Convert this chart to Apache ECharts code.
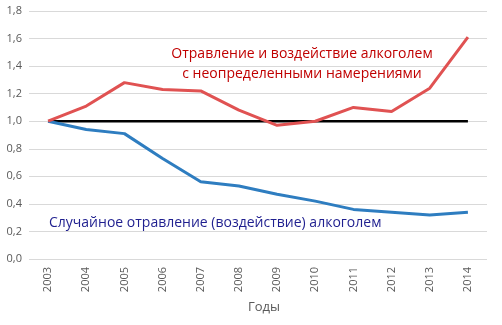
<!DOCTYPE html>
<html><head><meta charset="utf-8">
<script src="https://cdn.jsdelivr.net/npm/echarts@6/dist/echarts.min.js"></script>
<style>html,body{margin:0;padding:0;background:#fff}#c{width:502px;height:325px}</style>
</head><body><div id="c"></div>
<script>
const years = ['2003','2004','2005','2006','2007','2008','2009','2010','2011','2012','2013','2014'];
const undetermined = [1.0,1.11,1.28,1.23,1.22,1.08,0.97,1.00,1.10,1.07,1.24,1.61];
const accidental = [1.0,0.94,0.91,0.73,0.56,0.53,0.47,0.42,0.36,0.34,0.32,0.34];
const baseline = [1,1,1,1,1,1,1,1,1,1,1,1];
const yTicks = ['0,0','0,2','0,4','0,6','0,8','1,0','1,2','1,4','1,6','1,8'];
const labelRed = ['Отравление и воздействие алкоголем','с неопределенными намерениями'];
const labelBlue = 'Случайное отравление (воздействие) алкоголем';
const xName = 'Годы';

const font = '"Open Sans", "Noto Sans", sans-serif';
const chart = echarts.init(document.getElementById('c'), null, {renderer:'canvas'});
chart.setOption({
  animation:false,
  grid:{left:29,right:15,top:11,bottom:66,containLabel:false},
  xAxis:{type:'category',data:years,boundaryGap:true,
    name:xName,nameLocation:'middle',nameGap:42,
    nameTextStyle:{color:'#595959',fontSize:13,fontFamily:font,padding:[0,0,0,12]},
    axisLine:{show:false},axisTick:{show:false},
    axisLabel:{rotate:90,color:'#595959',fontSize:11,fontFamily:font,margin:8}},
  yAxis:{type:'value',min:0,max:1.8,interval:0.2,
    axisLine:{show:false},axisTick:{show:false},
    splitLine:{lineStyle:{color:'#d9d9d9',width:1}},
    axisLabel:{color:'#595959',fontSize:11,fontFamily:font,margin:7,
      formatter:(v)=>yTicks[Math.round(v/0.2)]}},
  series:[
    {type:'line',data:baseline,symbol:'none',lineStyle:{color:'#000',width:2.5},z:3},
    {type:'line',data:accidental,symbol:'none',lineStyle:{color:'#2e7dc0',width:3},z:4},
    {type:'line',data:undetermined,symbol:'none',lineStyle:{color:'#e05252',width:3},z:5}
  ],
  graphic:[
    {type:'text',x:302,y:54,style:{text:labelRed[0],fill:'#c00000',font:'14px '+font,align:'center',verticalAlign:'middle'}},
    {type:'text',x:302,y:74,style:{text:labelRed[1],fill:'#c00000',font:'14px '+font,align:'center',verticalAlign:'middle'}},
    {type:'text',x:49,y:223,style:{text:labelBlue,fill:'#1f1f8f',font:'14px '+font,align:'left',verticalAlign:'middle'}}
  ]
});
</script></body></html>
